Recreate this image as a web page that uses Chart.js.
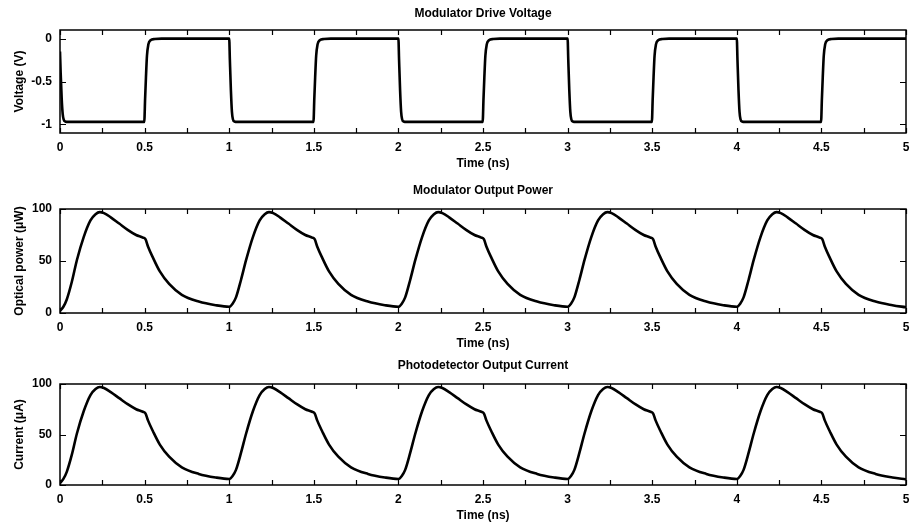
<!DOCTYPE html>
<html>
<head>
<meta charset="utf-8">
<script src="https://cdn.jsdelivr.net/npm/chart.js@4.4.1/dist/chart.umd.min.js"></script>
<style>
  body { margin: 0; background: #fff; }
  .panel { position: absolute; left: 0; width: 912px; }
</style>
</head>
<body>
<div class="panel" style="top:0;height:171px"><canvas id="voltageChart"></canvas></div>
<div class="panel" style="top:177px;height:174px"><canvas id="powerChart"></canvas></div>
<div class="panel" style="top:352px;height:171px"><canvas id="currentChart"></canvas></div>
<script>
// x axis (ns)
var xTicks = [0, 0.25, 0.5, 0.75, 1, 1.25, 1.5, 1.75, 2, 2.25, 2.5, 2.75, 3, 3.25, 3.5, 3.75, 4, 4.25, 4.5, 4.75, 5];
var xTickLabels = ['0', '', '0.5', '', '1', '', '1.5', '', '2', '', '2.5', '', '3', '', '3.5', '', '4', '', '4.5', '', '5'];

// modulator drive voltage (V)
var timeV = [
  0, 0.004, 0.01, 0.016, 0.022, 0.03, 0.05, 0.25, 0.498, 0.503, 0.508, 0.514, 0.522, 0.535, 0.56, 0.6,
  1, 1.004, 1.01, 1.016, 1.022, 1.03, 1.05, 1.25, 1.498, 1.503, 1.508, 1.514, 1.522, 1.535, 1.56, 1.6,
  2, 2.004, 2.01, 2.016, 2.022, 2.03, 2.05, 2.25, 2.498, 2.503, 2.508, 2.514, 2.522, 2.535, 2.56, 2.6,
  3, 3.004, 3.01, 3.016, 3.022, 3.03, 3.05, 3.25, 3.498, 3.503, 3.508, 3.514, 3.522, 3.535, 3.56, 3.6,
  4, 4.004, 4.01, 4.016, 4.022, 4.03, 4.05, 4.25, 4.498, 4.503, 4.508, 4.514, 4.522, 4.535, 4.56, 4.6,
  5
];
var voltage = [
  -0.15, -0.4, -0.7, -0.88, -0.945, -0.965, -0.97, -0.97, -0.97, -0.7, -0.45, -0.2, -0.07, -0.02, -0.005, 0,
  0, -0.25, -0.6, -0.85, -0.94, -0.965, -0.97, -0.97, -0.97, -0.7, -0.45, -0.2, -0.07, -0.02, -0.005, 0,
  0, -0.25, -0.6, -0.85, -0.94, -0.965, -0.97, -0.97, -0.97, -0.7, -0.45, -0.2, -0.07, -0.02, -0.005, 0,
  0, -0.25, -0.6, -0.85, -0.94, -0.965, -0.97, -0.97, -0.97, -0.7, -0.45, -0.2, -0.07, -0.02, -0.005, 0,
  0, -0.25, -0.6, -0.85, -0.94, -0.965, -0.97, -0.97, -0.97, -0.7, -0.45, -0.2, -0.07, -0.02, -0.005, 0,
  0
];
var voltageTicks = [-1, -0.5, 0];
var voltageLabels = ['-1', '-0.5', '0'];

// modulator output power (uW) and photodetector current (uA)
var timeP = [
  0, 0.02, 0.04, 0.07, 0.1, 0.14, 0.18, 0.21, 0.235, 0.26, 0.3, 0.35, 0.4, 0.45, 0.49, 0.505, 0.52, 0.55, 0.59, 0.645, 0.72, 0.82, 0.92,
  1, 1.02, 1.04, 1.07, 1.1, 1.14, 1.18, 1.21, 1.235, 1.26, 1.3, 1.35, 1.4, 1.45, 1.49, 1.505, 1.52, 1.55, 1.59, 1.645, 1.72, 1.82, 1.92,
  2, 2.02, 2.04, 2.07, 2.1, 2.14, 2.18, 2.21, 2.235, 2.26, 2.3, 2.35, 2.4, 2.45, 2.49, 2.505, 2.52, 2.55, 2.59, 2.645, 2.72, 2.82, 2.92,
  3, 3.02, 3.04, 3.07, 3.1, 3.14, 3.18, 3.21, 3.235, 3.26, 3.3, 3.35, 3.4, 3.45, 3.49, 3.505, 3.52, 3.55, 3.59, 3.645, 3.72, 3.82, 3.92,
  4, 4.02, 4.04, 4.07, 4.1, 4.14, 4.18, 4.21, 4.235, 4.26, 4.3, 4.35, 4.4, 4.45, 4.49, 4.505, 4.52, 4.55, 4.59, 4.645, 4.72, 4.82, 4.92,
  5
];
var power = [
  2, 6, 13, 30, 51, 73, 89, 95, 97, 96, 92, 86, 80, 75, 72.5, 71, 64, 53, 40, 28, 17.5, 11, 7.5,
  6, 9, 15, 32, 51, 73, 89, 95, 97, 96, 92, 86, 80, 75, 72.5, 71, 64, 53, 40, 28, 17.5, 11, 7.5,
  6, 9, 15, 32, 51, 73, 89, 95, 97, 96, 92, 86, 80, 75, 72.5, 71, 64, 53, 40, 28, 17.5, 11, 7.5,
  6, 9, 15, 32, 51, 73, 89, 95, 97, 96, 92, 86, 80, 75, 72.5, 71, 64, 53, 40, 28, 17.5, 11, 7.5,
  6, 9, 15, 32, 51, 73, 89, 95, 97, 96, 92, 86, 80, 75, 72.5, 71, 64, 53, 40, 28, 17.5, 11, 7.5,
  5.5
];
var current = [
  2, 6, 13, 30, 51, 73, 89, 95, 97, 96, 92, 86, 80, 75, 72.5, 71, 64, 53, 40, 28, 17.5, 11, 7.5,
  6, 9, 15, 32, 51, 73, 89, 95, 97, 96, 92, 86, 80, 75, 72.5, 71, 64, 53, 40, 28, 17.5, 11, 7.5,
  6, 9, 15, 32, 51, 73, 89, 95, 97, 96, 92, 86, 80, 75, 72.5, 71, 64, 53, 40, 28, 17.5, 11, 7.5,
  6, 9, 15, 32, 51, 73, 89, 95, 97, 96, 92, 86, 80, 75, 72.5, 71, 64, 53, 40, 28, 17.5, 11, 7.5,
  6, 9, 15, 32, 51, 73, 89, 95, 97, 96, 92, 86, 80, 75, 72.5, 71, 64, 53, 40, 28, 17.5, 11, 7.5,
  5.5
];
var hundredTicks = [0, 50, 100];
var hundredLabels = ['0', '50', '100'];

Chart.defaults.font.family = "'Liberation Sans', Arial, sans-serif";
Chart.defaults.font.size = 12;
Chart.defaults.font.weight = 'bold';
Chart.defaults.color = '#000';

// matlab style box with inward ticks on all four sides
var boxTicks = {
  id: 'boxTicks',
  afterDraw: function (chart) {
    var ctx = chart.ctx, a = chart.chartArea, x = chart.scales.x, y = chart.scales.y;
    ctx.save();
    ctx.strokeStyle = '#000';
    ctx.lineWidth = 1.2;
    ctx.beginPath();
    x.ticks.forEach(function (t) {
      var px = Math.round(x.getPixelForValue(t.value)) + 0.5;
      ctx.moveTo(px, a.bottom); ctx.lineTo(px, a.bottom - 5);
      ctx.moveTo(px, a.top); ctx.lineTo(px, a.top + 5);
    });
    y.ticks.forEach(function (t) {
      var py = Math.round(y.getPixelForValue(t.value)) + 0.5;
      ctx.moveTo(a.left, py); ctx.lineTo(a.left + 6, py);
      ctx.moveTo(a.right, py); ctx.lineTo(a.right - 6, py);
    });
    ctx.stroke();
    ctx.lineWidth = 1.5;
    ctx.strokeRect(a.left, a.top, a.right - a.left, a.bottom - a.top);
    ctx.restore();
  }
};

function makePanel (id, o) {
  new Chart(document.getElementById(id), {
    type: 'line',
    data: {
      datasets: [{
        data: o.xs.map(function (t, i) { return { x: t, y: o.ys[i] }; }),
        borderColor: '#000',
        borderWidth: 2.6,
        pointRadius: 0,
        fill: false,
        cubicInterpolationMode: 'monotone'
      }]
    },
    options: {
      responsive: true,
      maintainAspectRatio: false,
      animation: false,
      layout: { padding: { left: 0, right: 6, top: 0, bottom: 0 } },
      plugins: {
        legend: { display: false },
        tooltip: { enabled: false },
        title: {
          display: true,
          text: o.title,
          fullSize: false,
          color: '#000',
          font: { size: 12, weight: 'bold' },
          padding: { top: 6.8, bottom: o.titleGap }
        }
      },
      scales: {
        x: {
          type: 'linear',
          min: 0,
          max: 5,
          grid: { display: false, drawTicks: false },
          border: { display: false },
          afterBuildTicks: function (s) { s.ticks = xTicks.map(function (v) { return { value: v }; }); },
          afterFit: function (s) { s.height = 38; s.paddingLeft = 0; s.paddingRight = 0; },
          ticks: {
            autoSkip: false,
            maxRotation: 0,
            padding: 7,
            callback: function (v, i) { return xTickLabels[i]; }
          },
          title: { display: true, text: 'Time (ns)', padding: 0 }
        },
        y: {
          type: 'linear',
          min: o.min,
          max: o.max,
          grid: { display: false, drawTicks: false },
          border: { display: false },
          afterBuildTicks: function (s) { s.ticks = o.yTicks.map(function (v) { return { value: v }; }); },
          afterFit: function (s) { s.width = 60; s.paddingTop = 0; s.paddingBottom = 0; },
          ticks: {
            padding: 8,
            callback: function (v, i) { return o.yLabels[i]; }
          },
          title: {
            display: true,
            text: o.yTitle,
            padding: { top: 12, bottom: 0 }
          }
        }
      }
    },
    plugins: [boxTicks]
  });
}

makePanel('voltageChart', {
  title: 'Modulator Drive Voltage', titleGap: 8.8,
  xs: timeV, ys: voltage, min: -1.1, max: 0.1,
  yTicks: voltageTicks, yLabels: voltageLabels,
  yTitle: 'Voltage (V)'
});
makePanel('powerChart', {
  title: 'Modulator Output Power', titleGap: 10.8,
  xs: timeP, ys: power, min: 0, max: 100,
  yTicks: hundredTicks, yLabels: hundredLabels,
  yTitle: 'Optical power (μW)'
});
makePanel('currentChart', {
  title: 'Photodetector Output Current', titleGap: 10.8,
  xs: timeP, ys: current, min: 0, max: 100,
  yTicks: hundredTicks, yLabels: hundredLabels,
  yTitle: 'Current (μA)'
});
</script>
</body>
</html>
